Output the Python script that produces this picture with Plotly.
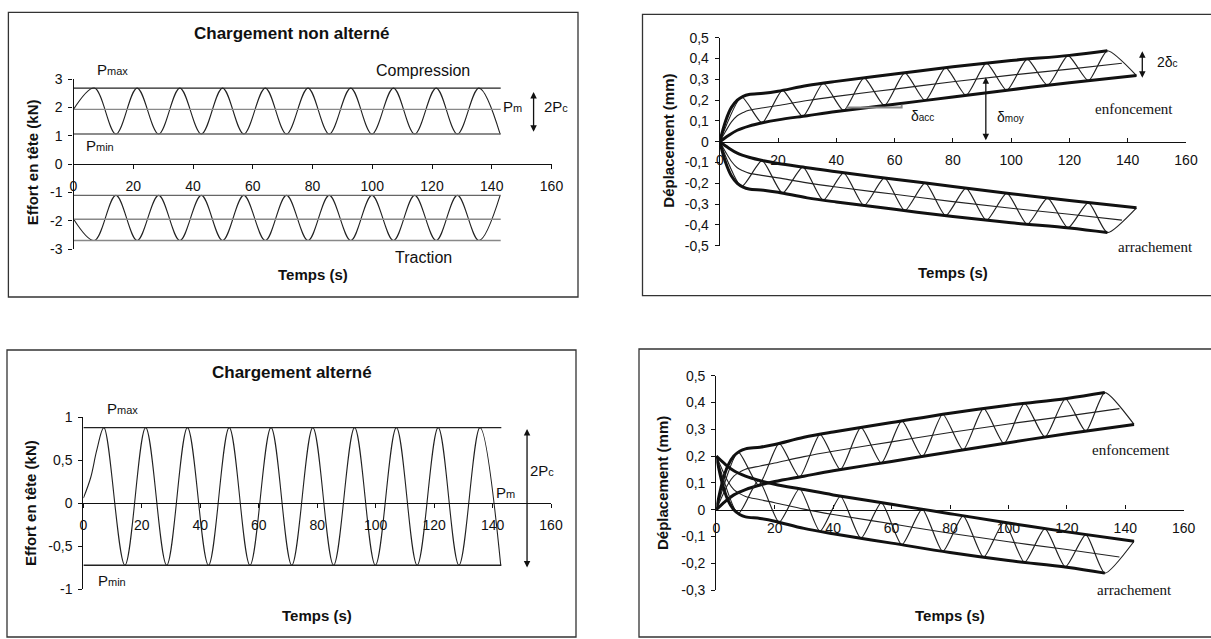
import plotly.graph_objects as go

W, H = 1211, 639
ARIAL = "Arial, Liberation Sans, sans-serif"
TIMES = "Times New Roman, Liberation Serif, serif"

# ---------------- données ----------------
temps_ticks = [0, 20, 40, 60, 80, 100, 120, 140, 160]
temps_labels = ['0', '20', '40', '60', '80', '100', '120', '140', '160']

# chargement non alterné : points de retournement (s, kN)
t_charge = [0, 7, 14.2, 21.3, 28.5, 35.6, 42.8, 49.9, 57, 64.2, 71.3,
            78.5, 85.6, 92.8, 99.9, 107.1, 114.2, 121.4, 128.5, 135.7, 142.8]
effort_compression = [1.93, 2.68, 1.06, 2.68, 1.06, 2.68, 1.06, 2.68, 1.06, 2.68, 1.06,
                      2.68, 1.06, 2.68, 1.06, 2.68, 1.06, 2.68, 1.06, 2.68, 1.06]
effort_traction = [-1.93, -2.69, -1.1, -2.69, -1.1, -2.69, -1.1, -2.69, -1.1, -2.69, -1.1,
                   -2.69, -1.1, -2.69, -1.1, -2.69, -1.1, -2.69, -1.1, -2.69, -1.1]
niveaux_compression = [2.68, 1.93, 1.06]   # Pmax, Pm, Pmin
niveaux_traction = [-1.1, -1.94, -2.69]
t_fin = 143

# chargement alterné
t_alterne = [0, 2.5, 4.6, 7, 14.2, 21.3, 28.5, 35.6, 42.8, 49.9, 57, 64.2, 71.3,
             78.5, 85.6, 92.8, 99.9, 107.1, 114.2, 121.4, 128.5, 135.7, 142.8]
effort_alterne = [0.06, 0.3, 0.62, 0.88, -0.72, 0.88, -0.72, 0.88, -0.72, 0.88, -0.72, 0.88, -0.72,
                  0.88, -0.72, 0.88, -0.72, 0.88, -0.72, 0.88, -0.72, 0.88, -0.72]
niveaux_alterne = [0.88, -0.72]

# déplacement en enfoncement (mm)
t_env_sup = [0, 2, 4, 6, 8, 10, 15, 20, 30, 40, 60, 80, 100, 120, 133]
env_sup = [0, 0.1, 0.165, 0.2, 0.218, 0.227, 0.233, 0.243, 0.27, 0.29, 0.325, 0.36, 0.39, 0.415, 0.437]
t_env_inf = [0, 3, 6, 10, 15, 20, 30, 40, 60, 80, 100, 120, 143]
env_inf = [0, 0.03, 0.055, 0.075, 0.092, 0.105, 0.125, 0.145, 0.18, 0.215, 0.25, 0.283, 0.318]
t_moy = [0, 2, 4, 6, 8, 10, 15, 20, 30, 40, 60, 80, 100, 120, 138]
dep_moy = [0, 0.05, 0.095, 0.125, 0.14, 0.151, 0.163, 0.174, 0.198, 0.218, 0.253, 0.288, 0.32, 0.349, 0.377]
t_cycle = [0, 7.5, 14.5, 21.5, 28.5, 35.5, 42.5, 49.5, 56.5, 63.5, 70.5, 77.5, 84.5, 91.5, 98.5,
           105.5, 112.5, 119.5, 126.5, 133, 143]
dep_cycle = [0, 0.215, 0.091, 0.247, 0.122, 0.281, 0.150, 0.307, 0.174, 0.331, 0.198,
             0.356, 0.223, 0.378, 0.247, 0.397, 0.271, 0.414, 0.293, 0.437, 0.318]
depart_arrachement_alterne = 0.2   # l'arrachement part de 0,2 mm en alterné

ticks_tl = [-3, -2, -1, 0, 1, 2, 3]
labels_tl = ['-3', '-2', '-1', '0', '1', '2', '3']
ticks_bl = [-1, -0.5, 0, 0.5, 1]
labels_bl = ['-1', '-0,5', '0', '0,5', '1']
ticks_tr = [-0.5, -0.4, -0.3, -0.2, -0.1, 0, 0.1, 0.2, 0.3, 0.4, 0.5]
labels_tr = ['-0,5', '-0,4', '-0,3', '-0,2', '-0,1', '0', '0,1', '0,2', '0,3', '0,4', '0,5']
ticks_br = [-0.3, -0.2, -0.1, 0, 0.1, 0.2, 0.3, 0.4, 0.5]
labels_br = ['-0,3', '-0,2', '-0,1', '0', '0,1', '0,2', '0,3', '0,4', '0,5']


# ---------------- géométrie des quatre graphiques ----------------
def dom_x(p0, p1):
    return [p0 / W, p1 / W]


def dom_y(p_bas, p_haut):
    return [1 - p_bas / H, 1 - p_haut / H]


panneaux = {
    '': dict(dx=dom_x(73.5, 551.5), dy=dom_y(249.3, 79), yr=[-3, 3],
             yt=ticks_tl, yl=labels_tl, xdir='outside'),
    '2': dict(dx=dom_x(719.8, 1186), dy=dom_y(245.7, 37.7), yr=[-0.5, 0.5],
              yt=ticks_tr, yl=labels_tr, xdir='inside'),
    '3': dict(dx=dom_x(83.4, 551), dy=dom_y(589.3, 417.3), yr=[-1, 1],
              yt=ticks_bl, yl=labels_bl, xdir='outside'),
    '4': dict(dx=dom_x(716.3, 1183.7), dy=dom_y(590, 375.7), yr=[-0.3, 0.5],
              yt=ticks_br, yl=labels_br, xdir='inside'),
}


def papier(ax, x, y):
    p = panneaux[ax]
    px = p['dx'][0] + x / 160 * (p['dx'][1] - p['dx'][0])
    py = p['dy'][0] + (y - p['yr'][0]) / (p['yr'][1] - p['yr'][0]) * (p['dy'][1] - p['dy'][0])
    return px, py


fig = go.Figure()


def courbe(ax, x, y, width=1.2, color='#222', smooth=1.0):
    shape = 'spline' if smooth else 'linear'
    line = dict(color=color, width=width, shape=shape)
    if smooth:
        line['smoothing'] = smooth
    fig.add_trace(go.Scatter(x=x, y=y, mode='lines', line=line, hoverinfo='skip',
                             showlegend=False, xaxis='x' + ax, yaxis='y' + ax))


def texte(ax, x, y, txt, size=14, bold=False, family=ARIAL, angle=0, xanchor='center', color='#111'):
    # placé en coordonnées papier pour rester visible hors de la plage des axes
    if bold:
        txt = '<b>' + txt + '</b>'
    px, py = papier(ax, x, y)
    fig.add_annotation(xref='paper', yref='paper', x=px, y=py, text=txt, showarrow=False,
                       font=dict(family=family, size=size, color=color), textangle=angle,
                       xanchor=xanchor, yanchor='middle')


def double_fleche(ax, x, y0, y1):
    fig.add_annotation(xref='x' + ax, yref='y' + ax, x=x, y=y1, ax=x, ay=y0,
                       axref='x' + ax, ayref='y' + ax, text='', showarrow=True,
                       arrowhead=2, startarrowhead=2, arrowside='end+start',
                       arrowsize=1, startarrowsize=1, arrowwidth=1.3, arrowcolor='#111')


def petit(base, sub, size=11):
    return base + "<span style='font-size:%dpx'>%s</span>" % (size, sub)


# ---------------- panneau 1 : chargement non alterné ----------------
courbe('', t_charge, effort_compression, width=1.1)
courbe('', t_charge, effort_traction, width=1.1)
for niv, col in zip(niveaux_compression, ['#222', '#888', '#666']):
    courbe('', [0, t_fin], [niv, niv], width=1.4, color=col, smooth=0)
for niv, col in zip(niveaux_traction, ['#666', '#888', '#888']):
    courbe('', [0, t_fin], [niv, niv], width=1.4, color=col, smooth=0)

texte('', 73, 4.59, 'Chargement non alterné', size=17, bold=True)
texte('', 13.2, 3.33, petit('P', 'max'), size=15)
texte('', 117, 3.3, 'Compression', size=16)
texte('', 146.8, 2.04, petit('P', 'm'), size=15)
texte('', 161.4, 2.04, petit('2P', 'c'), size=15)
double_fleche('', 154, 1.09, 2.54)
texte('', 9, 0.65, petit('P', 'min'), size=15)
texte('', 117, -3.28, 'Traction', size=16)
texte('', 80, -3.88, 'Temps (s)', size=15, bold=True)
texte('', -13.7, 0.05, 'Effort en tête (kN)', size=15, bold=True, angle=-90)

# ---------------- panneau 2 : déplacement, chargement non alterné ----------------
for sgn in [1, -1]:
    courbe('2', t_cycle, [sgn * v for v in dep_cycle], width=1.2, smooth=0.6)
    courbe('2', t_moy, [sgn * v for v in dep_moy], width=1.1)
    courbe('2', t_env_sup, [sgn * v for v in env_sup], width=3, color='#111')
    courbe('2', t_env_inf, [sgn * v for v in env_inf], width=3, color='#111')

double_fleche('2', 145, 0.30, 0.435)
texte('2', 153.5, 0.385, petit('2δ', 'c', 10), size=14)
double_fleche('2', 91.3, 0.0, 0.31)
texte('2', 94.5, 0.118, petit('δ', 'moy', 10), size=14, xanchor='left')
fig.add_shape(type='path', xref='x2', yref='y2',
              path='M 43.5 0.164 L 62.4 0.164 L 62.4 0.178', line=dict(color='#888', width=2))
texte('2', 65, 0.124, petit('δ', 'acc', 10), size=14, xanchor='left')
texte('2', 142.3, 0.156, 'enfoncement', size=15, family=TIMES)
texte('2', 149.7, -0.505, 'arrachement', size=15, family=TIMES)
texte('2', 80, -0.627, 'Temps (s)', size=15, bold=True)
texte('2', -17.7, 0.006, 'Déplacement (mm)', size=15, bold=True, angle=-90)

# ---------------- panneau 3 : chargement alterné ----------------
courbe('3', t_alterne, effort_alterne, width=1.1)
for niv in niveaux_alterne:
    courbe('3', [0, t_fin], [niv, niv], width=1.4, color='#222', smooth=0)

texte('3', 71.3, 1.52, 'Chargement alterné', size=17, bold=True)
texte('3', 13.5, 1.097, petit('P', 'max'), size=15)
texte('3', 9.8, -0.9, petit('P', 'min'), size=15)
texte('3', 144.3, 0.123, petit('P', 'm'), size=15)
texte('3', 156.9, 0.387, petit('2P', 'c'), size=15)
double_fleche('3', 151.8, -0.764, 0.864)
texte('3', 80, -1.3, 'Temps (s)', size=15, bold=True)
texte('3', -18, 0, 'Effort en tête (kN)', size=15, bold=True, angle=-90)

# ---------------- panneau 4 : déplacement, chargement alterné ----------------
for off, sgn in [(0, 1), (depart_arrachement_alterne, -1)]:
    courbe('4', t_cycle, [off + sgn * v for v in dep_cycle], width=1.2, smooth=0.6)
    courbe('4', t_moy, [off + sgn * v for v in dep_moy], width=1.1)
    courbe('4', t_env_sup, [off + sgn * v for v in env_sup], width=3, color='#111')
    courbe('4', t_env_inf, [off + sgn * v for v in env_inf], width=3, color='#111')

texte('4', 141.9, 0.224, 'enfoncement', size=15, family=TIMES)
texte('4', 143.2, -0.299, 'arrachement', size=15, family=TIMES)
texte('4', 80, -0.396, 'Temps (s)', size=15, bold=True)
texte('4', -18.2, 0.1, 'Déplacement (mm)', size=15, bold=True, angle=-90)

# ---------------- axes ----------------
tickfont = dict(family=ARIAL, size=14, color='#111')
for ax, p in panneaux.items():
    dy, yr = p['dy'], p['yr']
    pos = dy[0] + (0 - yr[0]) / (yr[1] - yr[0]) * (dy[1] - dy[0])
    xa = dict(domain=p['dx'], range=[0, 160], anchor='free', position=pos, showline=True,
              linecolor='#111', linewidth=1.3, ticks=p['xdir'], ticklen=4, tickcolor='#111',
              tickvals=temps_ticks, ticktext=temps_labels, showgrid=False, zeroline=False,
              tickfont=tickfont, ticklabelstandoff=5, automargin=False)
    ya = dict(domain=dy, range=yr, anchor='x' + ax, showline=True, linecolor='#111',
              linewidth=1.3, ticks='outside', ticklen=4, tickcolor='#111', tickvals=p['yt'],
              ticktext=p['yl'], showgrid=False, zeroline=False, tickfont=tickfont,
              ticklabelstandoff=3, automargin=False)
    fig.update_layout(**{'xaxis' + ax: xa, 'yaxis' + ax: ya})

# cadres des quatre graphiques
cadres = [(8.4, 12.3, 578, 297), (642.5, 14.3, 1215, 295.7),
          (7, 350, 576, 637), (639, 349, 1215, 637)]
for x0, y0, x1, y1 in cadres:
    fig.add_shape(type='rect', xref='paper', yref='paper', x0=x0 / W, x1=x1 / W,
                  y0=1 - y1 / H, y1=1 - y0 / H, line=dict(color='#333', width=1.3))

fig.update_layout(width=W, height=H, margin=dict(l=0, r=0, t=0, b=0),
                  paper_bgcolor='white', plot_bgcolor='white', showlegend=False,
                  font=dict(family=ARIAL, color='#111'))

# la page html ajoute une marge de 8 px autour de la figure : on la retire
fig.write_html('out.html', config={'displayModeBar': False},
               post_script="document.body.style.margin='0';")
